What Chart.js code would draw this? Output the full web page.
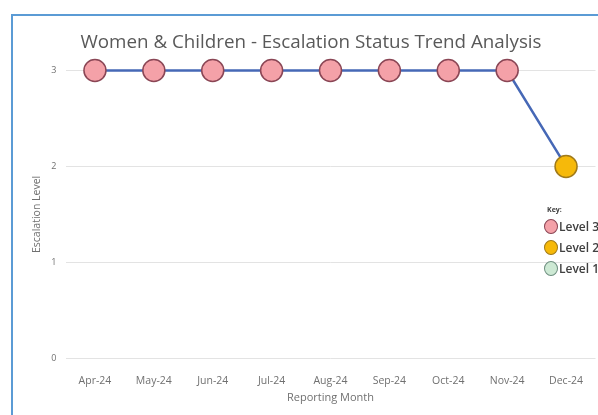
<!DOCTYPE html>
<html>
<head>
<meta charset="utf-8">
<title>Escalation Status Trend</title>
<script src="https://cdn.jsdelivr.net/npm/chart.js@4.4.1/dist/chart.umd.min.js"></script>
<style>
  html, body { margin: 0; padding: 0; background: #fff; overflow: hidden; }
  body { width: 598px; height: 415px; position: relative; }
  .frame {
    position: absolute; left: 11px; top: 14px; width: 700px; height: 500px;
    border-left: 2px solid #5b9bd5; border-top: 2px solid #5b9bd5;
  }
  #chartWrap { position: absolute; left: 0; top: 0; width: 598px; height: 415px; }
  .key {
    position: absolute; left: 544px; top: 204px; white-space: nowrap;
    font-family: "Open Sans", sans-serif; color: #404040;
  }
  .key .head { font-size: 7px; font-weight: bold; margin-left: 3px; line-height: 12px; }
  .key .row { height: 21px; display: flex; align-items: center; font-size: 12px; font-weight: 600; }
  .key .dot {
    display: inline-block; width: 14px; height: 15px; border-radius: 50%;
    box-sizing: border-box; border: 1.5px solid #777; margin-right: 1px;
  }
</style>
</head>
<body>
<div class="frame"></div>
<div id="chartWrap"><canvas id="trendChart" width="598" height="415"></canvas></div>
<div class="key" id="key"></div>

<script>
// Chart data
const months = ['Apr-24', 'May-24', 'Jun-24', 'Jul-24', 'Aug-24', 'Sep-24', 'Oct-24', 'Nov-24', 'Dec-24'];
const escalationLevels = [3, 3, 3, 3, 3, 3, 3, 3, 2];
const levelNames = ['Level 3', 'Level 2', 'Level 1'];
const levelValues = [3, 2, 1];

// Marker colours for each level
const levelFill = { 3: '#f4a1a8', 2: '#f6b90a', 1: '#cde9d4' };
const levelEdge = { 3: '#8a4655', 2: '#a07a1a', 1: '#6f8f80' };

function fillFor(ctx) { return levelFill[ctx.raw] || '#ccc'; }
function edgeFor(ctx) { return levelEdge[ctx.raw] || '#666'; }

document.addEventListener('DOMContentLoaded', function() {
  // Key in the right of the plot
  const key = document.getElementById('key');
  let html = '<div class="head">Key:</div>';
  levelNames.forEach((name, i) => {
    const v = levelValues[i];
    html += '<div class="row"><span class="dot" style="background:' + levelFill[v] +
      ';border-color:' + levelEdge[v] + '"></span>' + name + '</div>';
  });
  key.innerHTML = html;

  const ctx = document.getElementById('trendChart').getContext('2d');
  new Chart(ctx, {
    type: 'line',
    data: {
      labels: months,
      datasets: [{
        label: 'Escalation Level',
        data: escalationLevels,
        borderColor: '#4668b6',
        borderWidth: 2.5,
        tension: 0,
        fill: false,
        clip: false,
        pointRadius: 11,
        pointHoverRadius: 11,
        pointBorderWidth: 1.5,
        pointBackgroundColor: fillFor,
        pointBorderColor: edgeFor
      }]
    },
    options: {
      responsive: false,
      animation: false,
      layout: { autoPadding: false, padding: { left: 26.5, right: 2.5, top: 0, bottom: 5 } },
      plugins: {
        legend: { display: false },
        tooltip: { enabled: false },
        title: {
          display: true,
          text: 'Women & Children - Escalation Status Trend Analysis',
          color: '#595959',
          font: { family: 'Open Sans', size: 18.8, weight: 'normal' },
          padding: { top: 31, bottom: 17 }
        }
      },
      scales: {
        x: {
          offset: true,
          grid: { display: false },
          border: { display: false },
          ticks: {
            color: '#707070',
            font: { family: 'Open Sans', size: 10.5 },
            padding: 9,
            maxRotation: 0
          },
          title: {
            display: true,
            text: 'Reporting Month',
            color: '#707070',
            font: { family: 'Open Sans', size: 11 },
            padding: { top: -6, bottom: 6 }
          }
        },
        y: {
          min: 0,
          max: 3,
          grid: { color: '#e3e3e3', lineWidth: 1, drawTicks: false },
          border: { display: false },
          ticks: {
            stepSize: 1,
            color: '#707070',
            font: { family: 'Open Sans', size: 9 },
            padding: 9
          },
          title: {
            display: true,
            text: 'Escalation Level',
            color: '#707070',
            font: { family: 'Open Sans', size: 10.5 },
            padding: { top: 4.5, bottom: 0 }
          },
          afterFit: function(axis) { axis.width = 39; }
        }
      }
    }
  });
});
</script>
</body>
</html>
